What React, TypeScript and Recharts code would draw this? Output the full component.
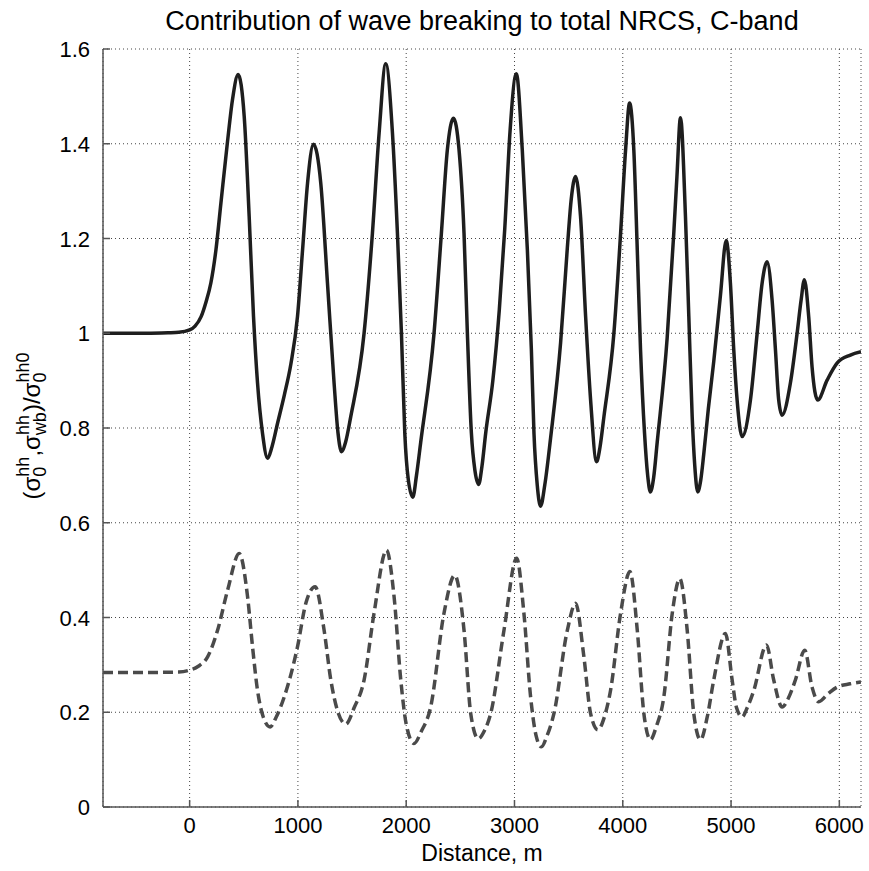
import React from 'react';
import { LineChart, Line, XAxis, YAxis, CartesianGrid } from 'recharts';

const FONT = '"Liberation Sans", Arial, Helvetica, sans-serif';

const X_TICKS = [0, 1000, 2000, 3000, 4000, 5000, 6000];
const Y_TICKS = [0, 0.2, 0.4, 0.6, 0.8, 1, 1.2, 1.4, 1.6];

// total NRCS (solid)
const totalX = [
  -800, -600, -400, -200, -100, 0, 50, 106, 150, 196, 243, 289, 350, 397, 448, 504, 550, 590, 627, 673,
  720, 760, 812, 875, 935, 996, 1043, 1089, 1144, 1211, 1273, 1334, 1370, 1402, 1440, 1488, 1611, 1688,
  1750, 1811, 1873, 1919, 1956, 1987, 2020, 2061, 2095, 2134, 2257, 2325, 2380, 2436, 2488, 2534, 2565,
  2602, 2635, 2669, 2700, 2734, 2800, 2860, 2910, 2960, 3017, 3072, 3119, 3156, 3180, 3210, 3241, 3280,
  3334, 3426, 3488, 3525, 3564, 3610, 3657, 3703, 3758, 3790, 3826, 3918, 3980, 4026, 4063, 4102, 4134,
  4164, 4201, 4230, 4255, 4285, 4318, 4410, 4471, 4500, 4533, 4579, 4610, 4641, 4665, 4692, 4720, 4748,
  4790, 4840, 4902, 4955, 4994, 5025, 5056, 5102, 5179, 5241, 5287, 5333, 5379, 5410, 5440, 5471, 5548,
  5610, 5647, 5677, 5717, 5748, 5800, 5887, 5979, 6102, 6200,
];
const totalY = [
  1.0, 1.0, 1.0, 1.001, 1.002, 1.007, 1.015, 1.035, 1.065, 1.106, 1.176, 1.275, 1.405, 1.495, 1.546, 1.458,
  1.246, 1.035, 0.895, 0.789, 0.736, 0.76, 0.81, 0.87, 0.935, 1.035, 1.176, 1.317, 1.399, 1.317, 1.106,
  0.895, 0.79, 0.75, 0.77, 0.824, 1.0, 1.211, 1.423, 1.569, 1.423, 1.211, 1.0, 0.789, 0.69, 0.654, 0.7,
  0.77, 1.0, 1.211, 1.387, 1.454, 1.387, 1.211, 1.0, 0.789, 0.71, 0.681, 0.72, 0.789, 0.9, 1.05, 1.22,
  1.43, 1.548, 1.387, 1.176, 0.965, 0.789, 0.68, 0.635, 0.68, 0.78, 0.98, 1.18, 1.285, 1.331, 1.246,
  1.035, 0.859, 0.729, 0.76, 0.824, 1.0, 1.211, 1.387, 1.486, 1.387, 1.176, 0.965, 0.789, 0.7, 0.665,
  0.695, 0.77, 0.99, 1.211, 1.33, 1.455, 1.246, 1.035, 0.824, 0.72, 0.665, 0.69, 0.745, 0.84, 0.94, 1.08,
  1.196, 1.106, 0.965, 0.859, 0.782, 0.859, 1.0, 1.106, 1.151, 1.07, 0.965, 0.859, 0.827, 0.895, 1.0,
  1.07, 1.113, 1.035, 0.929, 0.859, 0.901, 0.937, 0.954, 0.961,
];

// wave breaking contribution (dashed)
const wbX = [
  -800, -400, -100, 0, 80, 166, 258, 351, 458, 535, 581, 627, 680, 744, 800, 873, 996, 1073, 1159, 1242,
  1304, 1370, 1442, 1520, 1611, 1703, 1818, 1888, 1950, 2000, 2072, 2140, 2226, 2349, 2448, 2534, 2596,
  2665, 2720, 2780, 2903, 3020, 3087, 3149, 3200, 3248, 3300, 3364, 3488, 3564, 3641, 3703, 3770, 3830,
  3887, 3980, 4066, 4134, 4195, 4256, 4310, 4379, 4457, 4527, 4595, 4656, 4718, 4780, 4840, 4948, 5010,
  5050, 5102, 5150, 5210, 5327, 5394, 5471, 5530, 5594, 5680, 5748, 5809, 5900, 5979, 6100, 6200,
];
const wbY = [
  0.284, 0.284, 0.285, 0.289, 0.297, 0.317, 0.373, 0.458, 0.535, 0.444, 0.338, 0.246, 0.19, 0.169, 0.19,
  0.232, 0.338, 0.43, 0.465, 0.373, 0.268, 0.2, 0.175, 0.21, 0.268, 0.409, 0.542, 0.444, 0.268, 0.175,
  0.134, 0.16, 0.211, 0.409, 0.489, 0.373, 0.197, 0.144, 0.16, 0.197, 0.373, 0.525, 0.409, 0.232, 0.15,
  0.127, 0.15, 0.197, 0.373, 0.43, 0.317, 0.197, 0.163, 0.19, 0.246, 0.409, 0.497, 0.373, 0.197, 0.142,
  0.17, 0.232, 0.409, 0.482, 0.373, 0.197, 0.142, 0.19, 0.268, 0.366, 0.268, 0.21, 0.19, 0.21, 0.246,
  0.342, 0.268, 0.211, 0.23, 0.268, 0.331, 0.253, 0.222, 0.24, 0.253, 0.26, 0.264,
];

const totalData = totalX.map((x, i) => ({ x, y: totalY[i] }));
const wbData = wbX.map((x, i) => ({ x, y: wbY[i] }));

const AX = '#555';
const TICK_LEN = 7;

const BottomTick = (p: any) => (
  <g>
    <line x1={p.x} y1={p.y} x2={p.x} y2={p.y - TICK_LEN} stroke={AX} strokeWidth={1.5} />
    <text x={p.x} y={p.y + 26} textAnchor="middle" fontSize={22} fontFamily={FONT} fill="#000">
      {p.payload.value}
    </text>
  </g>
);
const TopTick = (p: any) => (
  <line x1={p.x} y1={p.y} x2={p.x} y2={p.y + TICK_LEN} stroke={AX} strokeWidth={1.5} />
);
const LeftTick = (p: any) => (
  <g>
    <line x1={p.x} y1={p.y} x2={p.x + TICK_LEN} y2={p.y} stroke={AX} strokeWidth={1.5} />
    <text x={p.x - 13} y={p.y + 8} textAnchor="end" fontSize={22} fontFamily={FONT} fill="#000">
      {String(p.payload.value)}
    </text>
  </g>
);
const RightTick = (p: any) => (
  <line x1={p.x} y1={p.y} x2={p.x - TICK_LEN} y2={p.y} stroke={AX} strokeWidth={1.5} />
);

export default function App() {
  return (
    <div style={{ position: 'absolute', left: 0, top: 0, width: 869, height: 871, background: '#fff' }}>
      <LineChart width={869} height={871} margin={{ top: 49, right: 8, bottom: 24, left: 0 }}>
        <CartesianGrid stroke="#444" strokeDasharray="1 3" />
        <XAxis
          xAxisId={0}
          type="number"
          dataKey="x"
          domain={[-800, 6200]}
          ticks={X_TICKS}
          allowDataOverflow
          height={40}
          tickSize={0}
          tickMargin={0}
          tickLine={false}
          tick={BottomTick}
          axisLine={{ stroke: AX, strokeWidth: 1.5 }}
        />
        <XAxis
          xAxisId="top"
          orientation="top"
          type="number"
          dataKey="x"
          domain={[-800, 6200]}
          ticks={X_TICKS}
          allowDataOverflow
          height={0}
          tickSize={0}
          tickMargin={0}
          tickLine={false}
          tick={TopTick}
          axisLine={{ stroke: AX, strokeWidth: 1.5 }}
        />
        <YAxis
          yAxisId={0}
          type="number"
          domain={[0, 1.6]}
          ticks={Y_TICKS}
          allowDataOverflow
          width={103}
          tickSize={0}
          tickMargin={0}
          tickLine={false}
          tick={LeftTick}
          axisLine={{ stroke: AX, strokeWidth: 1.5 }}
        />
        <YAxis
          yAxisId="right"
          orientation="right"
          type="number"
          domain={[0, 1.6]}
          ticks={Y_TICKS}
          allowDataOverflow
          width={0}
          tickSize={0}
          tickMargin={0}
          tickLine={false}
          tick={RightTick}
          axisLine={{ stroke: AX, strokeWidth: 1.5 }}
        />
        <Line
          data={totalData}
          dataKey="y"
          type="monotone"
          stroke="#1e1e1e"
          strokeWidth={3.5}
          dot={false}
          activeDot={false}
          isAnimationActive={false}
        />
        <Line
          data={wbData}
          dataKey="y"
          type="monotone"
          stroke="#4a4a4a"
          strokeWidth={3.5}
          strokeDasharray="10 5"
          dot={false}
          activeDot={false}
          isAnimationActive={false}
        />
      </LineChart>
      <svg
        width={869}
        height={871}
        style={{ position: 'absolute', left: 0, top: 0, pointerEvents: 'none' }}
      >
        <text x={482} y={30} textAnchor="middle" fontSize={27} fontFamily={FONT} fill="#000">
          Contribution of wave breaking to total NRCS, C-band
        </text>
        <text x={482} y={861} textAnchor="middle" fontSize={23} fontFamily={FONT} fill="#000">
          Distance, m
        </text>
        <g transform="translate(40,426) rotate(-90)">
          <text x={0} y={0} textAnchor="middle" fontSize={24} fontFamily={FONT} fill="#000">
            (σ
            <tspan fontSize={18} dy={6}>0</tspan>
            <tspan fontSize={18} dx={-10} dy={-17}>hh</tspan>
            <tspan fontSize={24} dy={11}>,σ</tspan>
            <tspan fontSize={18} dy={6}>wb</tspan>
            <tspan fontSize={18} dx={-23} dy={-17}>hh</tspan>
            <tspan fontSize={24} dx={3} dy={11}>)/σ</tspan>
            <tspan fontSize={18} dy={6}>0</tspan>
            <tspan fontSize={18} dx={-10} dy={-17}>hh0</tspan>
          </text>
        </g>
      </svg>
    </div>
  );
}
